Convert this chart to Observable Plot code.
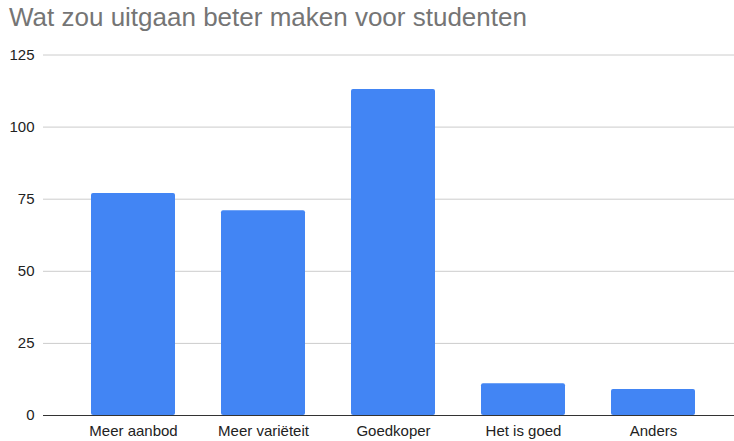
<!DOCTYPE html>
<html>
<head>
<meta charset="utf-8">
<script src="https://cdn.jsdelivr.net/npm/d3@7"></script>
<script src="https://cdn.jsdelivr.net/npm/@observablehq/plot@0.6"></script>
<style>
  html, body { margin: 0; padding: 0; background: #fff; }
  #title { font-family: "Liberation Sans", Arial, sans-serif; font-size: 26px; color: #757575; height: 38px; line-height: 35px; padding-left: 9px; white-space: nowrap; }
  #chart svg { display: block; }
</style>
</head>
<body>
<div id="title">Wat zou uitgaan beter maken voor studenten</div>
<div id="chart"></div>
<script>
const categories = ["Meer aanbod", "Meer variëteit", "Goedkoper", "Het is goed", "Anders"];
const values = [77, 71, 113, 11, 9];
const yTicks = [0, 25, 50, 75, 100, 125];

const data = categories.map((c, i) => ({category: c, value: values[i]}));

const chart = Plot.plot({
  width: 734,
  height: 403,
  marginLeft: 43,
  marginRight: 0,
  marginTop: 16.5,
  marginBottom: 26,
  style: {fontFamily: "'Liberation Sans', Arial, sans-serif", fontSize: "15px", color: "#222"},
  x: {domain: categories, range: [43, 742], paddingInner: 0.357, paddingOuter: 0.352, label: null},
  y: {domain: [0, 125], ticks: yTicks, label: null},
  marks: [
    Plot.ruleY(yTicks.filter(d => d > 0), {stroke: "#cccccc", strokeWidth: 1}),
    Plot.barY(data, {x: "category", y: "value", fill: "#4285f4", rx: 2}),
    Plot.ruleY([0], {stroke: "#333333", strokeWidth: 1.2}),
    Plot.axisX({tickSize: 0, tickPadding: 10, fill: "#222", fontSize: 15, label: null}),
    Plot.axisY({ticks: yTicks, tickSize: 0, tickPadding: 9, fill: "#222", fontSize: 15, label: null})
  ]
});
document.getElementById("chart").appendChild(chart);
</script>
</body>
</html>
